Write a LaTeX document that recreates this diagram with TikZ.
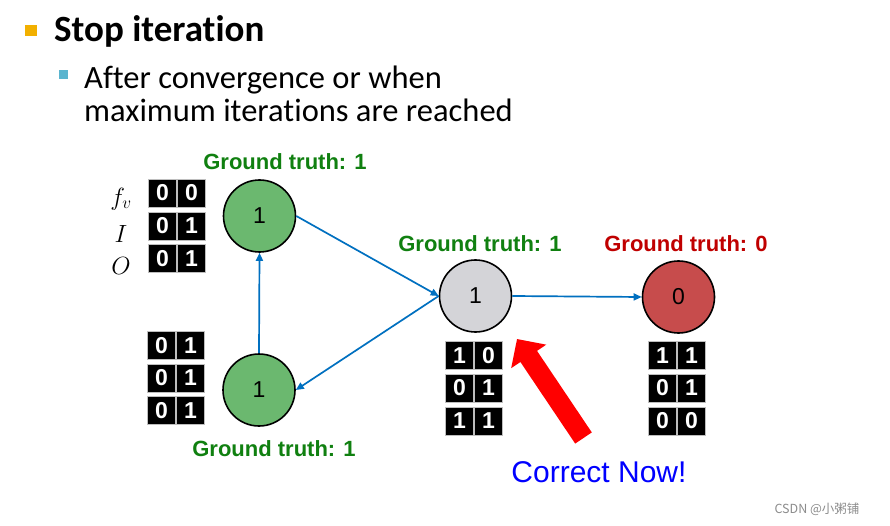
\documentclass[tikz,border=0pt]{standalone}
\usepackage{fontspec}
\setmainfont{Liberation Sans}
\newfontfamily\calibri[Ligatures={NoCommon,NoRequired,NoContextual}]{Carlito}
\newfontfamily\cjk{Noto Sans CJK SC}
\usetikzlibrary{arrows.meta}
\definecolor{bulletorange}{RGB}{242,176,0}
\definecolor{bulletblue}{RGB}{91,181,207}
\definecolor{nodegreen}{RGB}{107,184,111}
\definecolor{nodegray}{RGB}{212,212,216}
\definecolor{nodered}{RGB}{199,76,76}
\definecolor{gtgreen}{RGB}{16,128,16}
\definecolor{gtred}{RGB}{192,0,0}
\definecolor{edgeblue}{RGB}{0,112,192}
\definecolor{cellborder}{RGB}{190,190,190}
\newcommand\mrow[5]{%
  \node[cell] (#1a) at (#2,#3) {#4};
  \node[cell] (#1b) at (#2+29,#3) {#5};}
\begin{document}
\begin{tikzpicture}[x=1pt,y=-1pt,
  cell/.style={draw=cellborder,line width=0.8pt,fill=black,text=white,
    minimum width=28pt,minimum height=28pt,inner sep=0pt,
    font=\fontsize{23}{23}\selectfont\bfseries},
  circ/.style={circle,draw=black,line width=1.6pt,minimum size=72pt,inner sep=0pt,
    font=\fontsize{23}{23}\selectfont},
  gt/.style={font=\fontsize{22}{22}\selectfont\bfseries,inner sep=0pt},
  edge/.style={draw=edgeblue,line width=1.7pt,-{Triangle[length=8pt,width=7pt]}},
  lbl/.style={inner sep=0pt,font=\fontsize{26}{26}\selectfont}]
\useasboundingbox (0,0) rectangle (890,526);
\fill[white] (0,0) rectangle (890,526);
% bullets and text
\node[fill=bulletorange,minimum width=12pt,minimum height=11pt,inner sep=0pt] (b1) at (31,30.5) {};
\node[anchor=base west,inner sep=0pt,font=\calibri\fontsize{37}{37}\selectfont\bfseries] (t1) at (54,42) {Stop iteration};
\node[fill=bulletblue,minimum size=9.5pt,inner sep=0pt] (b2) at (63.5,74.5) {};
\node[anchor=base west,inner sep=0pt,font=\calibri\fontsize{32.5}{32.5}\selectfont] (t2) at (84,89) {After convergence or when};
\node[anchor=base west,inner sep=0pt,font=\calibri\fontsize{32.5}{32.5}\selectfont] (t3) at (84,122) {maximum iterations are reached};
% circles
\node[circ,fill=nodegreen] (A) at (259.5,216) {1};
\node[circ,fill=nodegreen] (B) at (259,390) {1};
\node[circ,fill=nodegray] (C) at (475.5,296) {1};
\node[circ,fill=nodered] (D) at (678.5,297) {0};
% ground truth labels
\node[gt,text=gtgreen] (gA) at (285,162) {Ground truth: 1};
\node[gt,text=gtgreen] (gB) at (274,449) {Ground truth: 1};
\node[gt,text=gtgreen] (gC) at (480,244) {Ground truth: 1};
\node[gt,text=gtred] (gD) at (686,244) {Ground truth: 0};
% row labels
\node[lbl] (lf) at (121,199) {$f_v$};
\node[lbl] (lI) at (121,234) {$I$};
\node[lbl] (lO) at (121,266) {$O$};
% matrices
\mrow{ma1}{162.5}{193}{0}{0}
\mrow{ma2}{162.5}{226}{0}{1}
\mrow{ma3}{162.5}{258.5}{0}{1}
\mrow{mb1}{161.5}{345.5}{0}{1}
\mrow{mb2}{161.5}{378}{0}{1}
\mrow{mb3}{161.5}{410.5}{0}{1}
\mrow{mc1}{459.5}{355.5}{1}{0}
\mrow{mc2}{459.5}{388}{0}{1}
\mrow{mc3}{459.5}{421}{1}{1}
\mrow{md1}{662.5}{355.5}{1}{1}
\mrow{md2}{662.5}{388}{0}{1}
\mrow{md3}{662.5}{421}{0}{0}
% edges
\draw[edge] (A.east) -- (C.west);
\draw[edge] (C.west) -- (B.east);
\draw[edge] (B.north) -- (A.south);
\draw[edge] (C.east) -- (D.west);
% red arrow
\coordinate (rtail) at (583.5,438);
\coordinate (rtip) at (517,339);
\draw[red,line width=20pt,-{Triangle[length=21pt,width=41pt]}] (rtail) -- (rtip);
\node[inner sep=0pt,text=blue,font=\fontsize{30}{30}\selectfont] (cn) at (599,472) {Correct Now!};
% watermark
\node[inner sep=0pt,text=black!45,font=\cjk\fontsize{12.5}{12.5}\selectfont] (wm) at (817,509) {CSDN @小粥铺};
\end{tikzpicture}
\end{document}
